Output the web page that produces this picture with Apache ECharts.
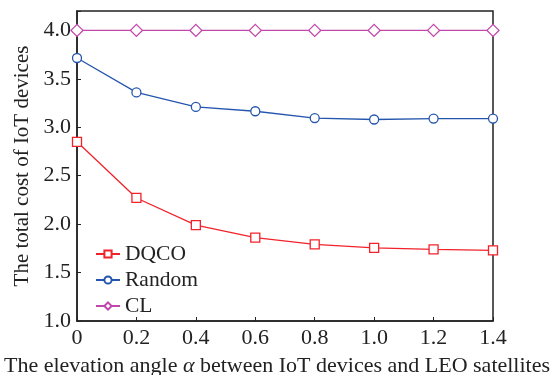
<!DOCTYPE html>
<html>
<head>
<meta charset="utf-8">
<script src="https://cdn.jsdelivr.net/npm/echarts@6/dist/echarts.min.js"></script>
<style>
html,body{margin:0;padding:0;background:#fff;}
#chart{width:556px;height:375px;}
</style>
</head>
<body>
<div id="chart"></div>
<script>
// Elevation angle values (x axis)
var alphaValues = [0, 0.2, 0.4, 0.6, 0.8, 1.0, 1.2, 1.4];
// Total cost for each scheme
var dqcoCost = [2.85, 2.27, 1.99, 1.86, 1.79, 1.755, 1.74, 1.73];
var randomCost = [3.715, 3.36, 3.21, 3.165, 3.095, 3.08, 3.09, 3.09];
var clCost = [4.0, 4.0, 4.0, 4.0, 4.0, 4.0, 4.0, 4.0];
var seriesNames = ['DQCO', 'Random', 'CL'];

function pairs(xs, ys) {
  return xs.map(function (x, i) { return [x, ys[i]]; });
}

var FONT = '"Liberation Serif", "Times New Roman", serif';
var chart = echarts.init(document.getElementById('chart'));

chart.setOption({
  animation: false,
  backgroundColor: '#ffffff',
  grid: {
    left: 77, top: 11, right: 63, bottom: 54,
    containLabel: false, outerBoundsMode: 'none',
    show: true, borderColor: '#222', borderWidth: 1.5, backgroundColor: 'transparent'
  },
  legend: {
    left: 90, top: 238,
    orient: 'vertical',
    itemGap: 4,
    itemWidth: 24, itemHeight: 9,
    textStyle: { fontFamily: FONT, fontSize: 21.5, color: '#222' },
    data: seriesNames
  },
  xAxis: {
    type: 'value', min: 0, max: 1.4, interval: 0.2,
    name: '{n|The elevation angle }{a|α}{n| between IoT devices and LEO satellites}',
    nameLocation: 'middle', nameGap: 34,
    nameTextStyle: {
      padding: [0, 16, 0, 0],
      rich: {
        n: { fontFamily: FONT, fontSize: 22, color: '#222' },
        a: { fontFamily: FONT, fontSize: 22, fontStyle: 'italic', color: '#222' }
      }
    },
    axisLine: { lineStyle: { color: '#222', width: 1.5 } },
    axisTick: { inside: true, length: 4, lineStyle: { color: '#222' } },
    axisLabel: {
      fontFamily: FONT, fontSize: 22, color: '#222', margin: 6,
      formatter: function (v) { return v === 0 ? '0' : v.toFixed(1); }
    },
    splitLine: { show: false }
  },
  yAxis: {
    type: 'value', min: 1.0, max: 4.2, interval: 0.5,
    name: 'The total cost of IoT devices',
    nameLocation: 'middle', nameGap: 43,
    nameTextStyle: { fontFamily: FONT, fontSize: 21, color: '#222' },
    axisLine: { lineStyle: { color: '#222', width: 1.5 } },
    axisTick: { inside: true, length: 4, lineStyle: { color: '#222' } },
    axisLabel: {
      fontFamily: FONT, fontSize: 22, color: '#222', margin: 6,
      formatter: function (v) { return v > 4.05 ? '' : v.toFixed(1); }
    },
    splitLine: { show: false }
  },
  series: [
    {
      name: seriesNames[0], type: 'line', data: pairs(alphaValues, dqcoCost),
      symbol: 'rect', symbolSize: 9, showAllSymbol: true,
      lineStyle: { color: '#f2222b', width: 1.3 },
      itemStyle: { color: '#ffffff', borderColor: '#f2222b', borderWidth: 1.3 },
      z: 3
    },
    {
      name: seriesNames[1], type: 'line', data: pairs(alphaValues, randomCost),
      symbol: 'circle', symbolSize: 9, showAllSymbol: true,
      lineStyle: { color: '#2556ad', width: 1.3 },
      itemStyle: { color: '#ffffff', borderColor: '#2556ad', borderWidth: 1.3 },
      z: 3
    },
    {
      name: seriesNames[2], type: 'line', data: pairs(alphaValues, clCost),
      symbol: 'diamond', symbolSize: 12, showAllSymbol: true,
      lineStyle: { color: '#c247ad', width: 1.3 },
      itemStyle: { color: '#ffffff', borderColor: '#c247ad', borderWidth: 1.3 },
      z: 3
    }
  ]
});
</script>
</body>
</html>
